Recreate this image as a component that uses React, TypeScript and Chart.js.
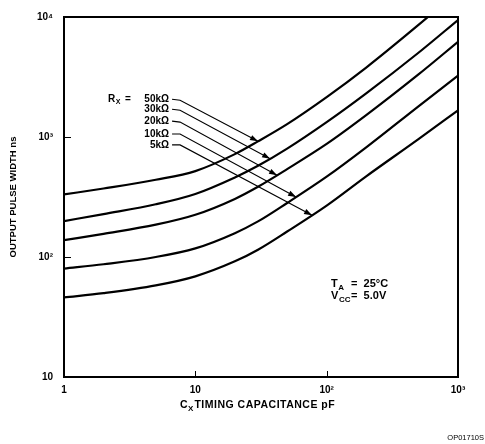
import React, { useEffect, useRef } from 'react';
import { Chart, registerables } from 'chart.js';

Chart.register(...registerables);

// ---- data ----
const capacitancePF = [1, 2, 5, 10, 20, 30, 50, 100, 200, 500, 1000];
const seriesLabels = ['50kΩ', '30kΩ', '20kΩ', '10kΩ', '5kΩ'];
const pulse50k = [332, 372, 440, 520, 720, 920, 1280, 2150, 3790, 8590, 16400];
const pulse30k = [199, 228, 275, 335, 460, 575, 800, 1330, 2310, 5035, 9440];
const pulse20k = [138, 156, 186, 225, 305, 385, 540, 875, 1520, 3320, 6210];
const pulse10k = [80, 87, 100, 118, 158, 198, 282, 467, 820, 1803, 3250];
const pulse5k = [46, 50, 58, 69, 92, 115, 163, 268, 470, 960, 1670];

const xTickValues = [1, 10, 100, 1000];
const xTickLabels = ['1', '10', '10²', '10³'];
const yTickValues = [10, 100, 1000, 10000];
const yTickLabels = ['10', '10²', '10³', '10⁴'];

// leader arrows (data units: pF, ns): label end -> bend -> tip on curve
const arrowStartC = [6.65, 6.65, 6.65, 6.65, 6.65];
const arrowStartT = [2061, 1703, 1356, 1059, 859];
const arrowBendC = [7.65, 7.65, 7.65, 7.65, 7.65];
const arrowBendT = [2022, 1672, 1330, 1059, 859];
const arrowTipC = [30, 37.1, 41.9, 58.5, 77.4];
const arrowTipT = [920, 660, 480, 316, 223];

const rxName = 'R';
const rxSub = 'X';
const condAnchorC = 108;
const condAnchorT = 59.8;
const condLines = [
  { base: 'T', sub: 'A', value: '=  25°C' },
  { base: 'V', sub: 'CC', value: '=  5.0V' },
];
const yTitle = 'OUTPUT PULSE WIDTH ns';
const xTitleBase = 'C';
const xTitleSub = 'X';
const xTitleRest = 'TIMING CAPACITANCE pF';
const figureCode = 'OP01710S';

const FONT = '"Liberation Sans", Arial, Helvetica, sans-serif';

function drawSub(ctx: CanvasRenderingContext2D, x: number, y: number, base: string, sub: string, size: number) {
  ctx.font = `bold ${size}px ${FONT}`;
  ctx.textAlign = 'left';
  ctx.textBaseline = 'middle';
  ctx.fillText(base, x, y);
  const w = ctx.measureText(base).width;
  const s = Math.round(size * 0.72);
  ctx.font = `bold ${s}px ${FONT}`;
  ctx.fillText(sub, x + w + 0.5, y + size * 0.32);
  return x + w + 0.5 + ctx.measureText(sub).width;
}

const annotPlugin = {
  id: 'annot',
  afterDraw(chart: any) {
    const { ctx, chartArea, scales } = chart;
    const xs = scales.x;
    const ys = scales.y;
    ctx.save();
    ctx.fillStyle = '#000';
    ctx.strokeStyle = '#000';

    // frame
    ctx.lineWidth = 2;
    ctx.strokeRect(chartArea.left, chartArea.top, chartArea.right - chartArea.left, chartArea.bottom - chartArea.top);

    // inward decade ticks
    ctx.lineWidth = 1;
    ctx.beginPath();
    xTickValues.forEach((v) => {
      const px = Math.round(xs.getPixelForValue(v)) + 0.5;
      ctx.moveTo(px, chartArea.bottom);
      ctx.lineTo(px, chartArea.bottom - 6);
    });
    yTickValues.forEach((v) => {
      const py = Math.round(ys.getPixelForValue(v)) + 0.5;
      ctx.moveTo(chartArea.left, py);
      ctx.lineTo(chartArea.left + 7, py);
    });
    ctx.stroke();

    // arrowheads
    chart.data.datasets.forEach((ds: any, i: number) => {
      if (!ds.isArrow) return;
      const pts = chart.getDatasetMeta(i).data;
      const a = pts[pts.length - 2];
      const b = pts[pts.length - 1];
      const ang = Math.atan2(b.y - a.y, b.x - a.x);
      const L = 8;
      const W = 2.8;
      const c = Math.cos(ang);
      const s = Math.sin(ang);
      ctx.beginPath();
      ctx.moveTo(b.x, b.y);
      ctx.lineTo(b.x - L * c + W * s, b.y - L * s - W * c);
      ctx.lineTo(b.x - L * c - W * s, b.y - L * s + W * c);
      ctx.closePath();
      ctx.fill();
    });

    // Rx labels
    seriesLabels.forEach((lab, i) => {
      const px = xs.getPixelForValue(arrowStartC[i]) - 3;
      const py = ys.getPixelForValue(arrowStartT[i]);
      ctx.font = `bold 10px ${FONT}`;
      ctx.textAlign = 'right';
      ctx.textBaseline = 'middle';
      ctx.fillText(lab, px, py);
      if (i === 0) {
        drawSub(ctx, px - 61, py, rxName, rxSub, 10);
        ctx.font = `bold 10px ${FONT}`;
        ctx.textAlign = 'left';
        ctx.fillText('=', px - 44, py);
      }
    });

    // conditions
    const cx = xs.getPixelForValue(condAnchorC);
    const cy = ys.getPixelForValue(condAnchorT);
    condLines.forEach((ln, i) => {
      const y = cy + i * 12;
      drawSub(ctx, cx, y, ln.base, ln.sub, 11);
      ctx.font = `bold 11px ${FONT}`;
      ctx.textAlign = 'left';
      ctx.fillText(ln.value, cx + 20, y);
    });

    // x title
    const tx = 180;
    const ty = 405;
    const end = drawSub(ctx, tx, ty, xTitleBase, xTitleSub, 10.5);
    ctx.font = `bold 10.5px ${FONT}`;
    (ctx as any).letterSpacing = '0.5px';
    ctx.textAlign = 'left';
    ctx.fillText(xTitleRest, end + 1, ty);
    (ctx as any).letterSpacing = '0px';

    // figure code
    ctx.font = `7.5px ${FONT}`;
    ctx.textAlign = 'right';
    ctx.fillText(figureCode, 484, 438);
    ctx.restore();
  },
};

export default function App() {
  const ref = useRef<HTMLCanvasElement | null>(null);

  useEffect(() => {
    if (!ref.current) return;
    const curves = [pulse50k, pulse30k, pulse20k, pulse10k, pulse5k];
    const curveSets = curves.map((arr, i) => ({
      label: seriesLabels[i],
      data: capacitancePF.map((c, j) => ({ x: c, y: arr[j] })),
      borderColor: '#000',
      borderWidth: 2.2,
      pointRadius: 0,
      cubicInterpolationMode: 'monotone' as const,
      fill: false,
    }));
    const arrowSets = seriesLabels.map((lab, i) => ({
      label: 'arrow ' + lab,
      isArrow: true,
      data: [
        { x: arrowStartC[i], y: arrowStartT[i] },
        { x: arrowBendC[i], y: arrowBendT[i] },
        { x: arrowTipC[i], y: arrowTipT[i] },
      ],
      borderColor: '#000',
      borderWidth: 1.1,
      pointRadius: 0,
      tension: 0,
      fill: false,
    }));

    const chart = new Chart(ref.current, {
      type: 'line',
      data: { datasets: [...curveSets, ...arrowSets] as any },
      plugins: [annotPlugin],
      options: {
        animation: false,
        responsive: false,
        devicePixelRatio: 1,
        layout: { padding: { top: 14, right: 27, left: 0, bottom: 0 } },
        plugins: { legend: { display: false }, tooltip: { enabled: false } },
        scales: {
          x: {
            type: 'logarithmic',
            min: 1,
            max: 1000,
            afterBuildTicks: (s: any) => {
              s.ticks = xTickValues.map((v) => ({ value: v }));
            },
            afterFit: (s: any) => {
              s.height = 67;
            },
            grid: { display: false, drawTicks: false },
            border: { display: false },
            ticks: {
              autoSkip: false,
              maxRotation: 0,
              padding: 7,
              color: '#000',
              font: { family: FONT, size: 10, weight: 'bold' },
              callback: (_v: any, i: number) => xTickLabels[i],
            },
          },
          y: {
            type: 'logarithmic',
            min: 10,
            max: 10000,
            afterBuildTicks: (s: any) => {
              s.ticks = yTickValues.map((v) => ({ value: v }));
            },
            afterFit: (s: any) => {
              s.width = 64;
            },
            grid: { display: false, drawTicks: false },
            border: { display: false },
            title: {
              display: true,
              text: yTitle,
              color: '#000',
              font: { family: FONT, size: 9.5, weight: 'bold' },
              padding: { top: 8, bottom: 0 },
            },
            ticks: {
              autoSkip: false,
              padding: 11,
              color: '#000',
              font: { family: FONT, size: 10, weight: 'bold' },
              callback: (_v: any, i: number) => yTickLabels[i],
            },
          },
        },
      } as any,
    });
    return () => chart.destroy();
  }, []);

  return (
    <div style={{ position: 'absolute', left: 0, top: 0, width: 485, height: 444, background: '#fff' }}>
      <canvas ref={ref} width={485} height={444} style={{ width: 485, height: 444 }} />
    </div>
  );
}
